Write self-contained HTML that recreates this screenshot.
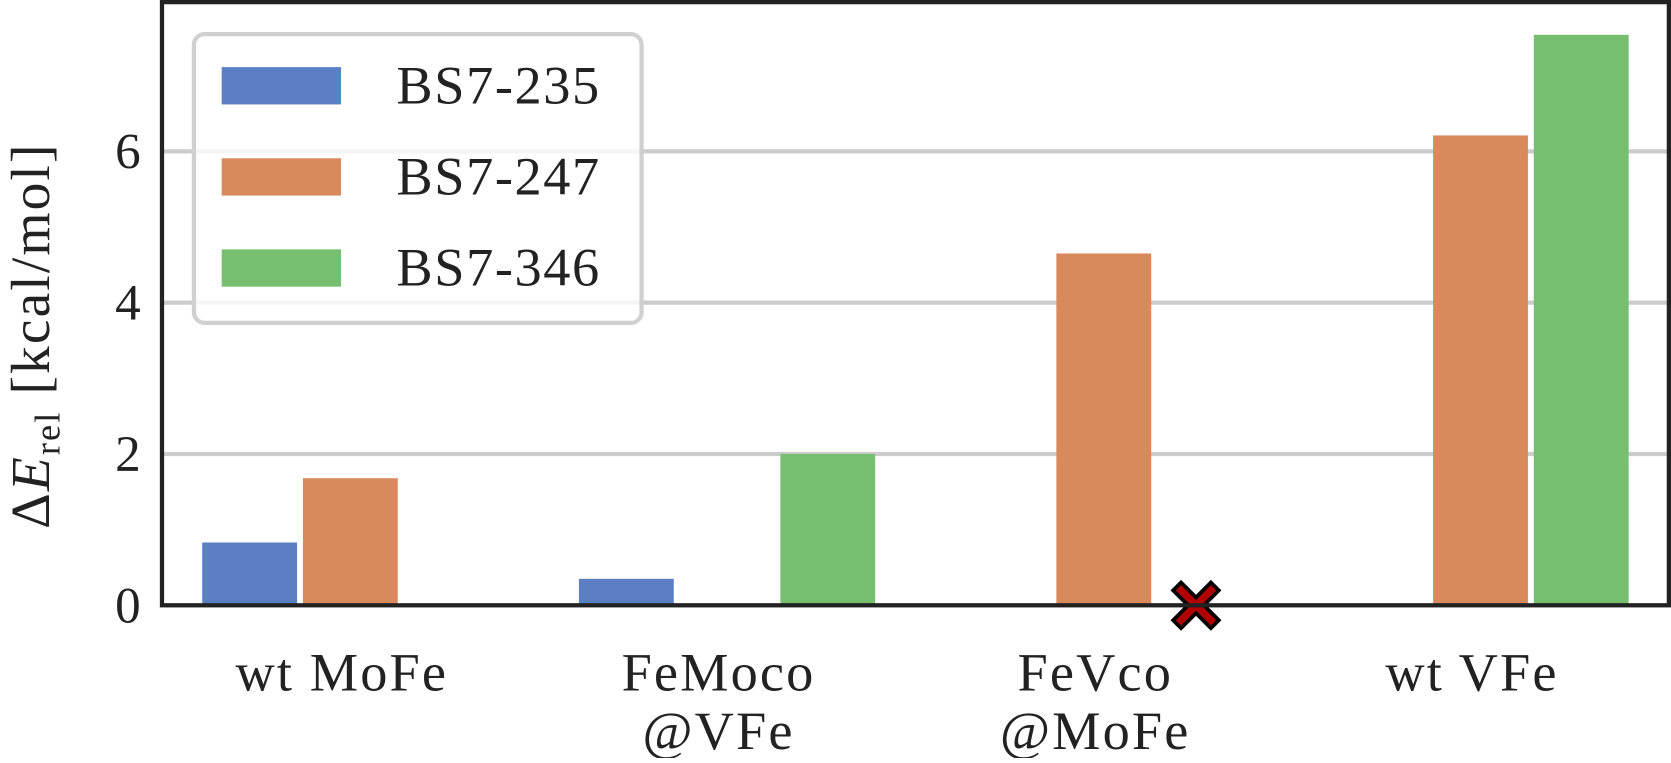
<!DOCTYPE html>
<html><head><meta charset="utf-8"><style>
body{margin:0;background:#fff}
svg text{font-family:"Liberation Serif",serif;fill:#222}
</style></head><body>
<svg id="chart" width="1671" height="758" viewBox="0 0 1568 711.3" preserveAspectRatio="none" xmlns="http://www.w3.org/2000/svg"></svg>
<script>
const categories = [["wt MoFe"],["FeMoco","@VFe"],["FeVco","@MoFe"],["wt VFe"]];
const seriesNames = ["BS7-235","BS7-247","BS7-346"];
const bs235 = [0.83, 0.35, null, null];
const bs247 = [1.68, null, 4.65, 6.21];
const bs346 = [null, 2.0, null, 7.54];
const yTicks = [0,2,4,6];
const failedMarks = [[2,2]]; // [category, series]

const NS="http://www.w3.org/2000/svg";
const svg=document.getElementById('chart');
const L=152,R=1566,T=2,B=568;
const colors=["#5b7fc3","#d98a5d","#76bf71"];
const series=[bs235,bs247,bs346];
const y=v=>B-v*71;
const gw=(R-L)/categories.length;
const cx=i=>L+gw*(i+0.5);
const bw=89, step=94.5;
const bx=(i,s)=>cx(i)+(s-1)*step;
function mk(tag,attrs,parent){const e=document.createElementNS(NS,tag);for(const k in attrs)e.setAttribute(k,attrs[k]);(parent||svg).appendChild(e);return e;}

yTicks.forEach(t=>{
  if(t>0){const g=mk('line',{x1:L,x2:R,y1:y(t),y2:y(t),stroke:'#cccccc','stroke-width':4});
  
  }
  const tx=mk('text',{x:L-20,y:y(t)+16,'text-anchor':'end','font-size':48});
  tx.textContent=t;
  
  
});
series.forEach((arr,s)=>arr.forEach((v,i)=>{
  if(v==null)return;
  const r=mk('rect',{x:bx(i,s)-bw/2,y:y(v),width:bw,height:B-y(v),fill:colors[s]});
  
  
}));
failedMarks.forEach(([i,s])=>{
  const g=mk('g',{transform:`translate(${bx(i,s)-8},${B})`});
  
  
  mk('path',{d:'M-14,-14L14,14M14,-14L-14,14',stroke:'#000','stroke-width':14,'stroke-linecap':'square'},g);
  mk('path',{d:'M-14,-14L14,14M14,-14L-14,14',stroke:'#b00000','stroke-width':7,'stroke-linecap':'square'},g);
});
const frame=mk('rect',{x:L,y:T,width:R-L,height:B-T,fill:'none',stroke:'#222','stroke-width':4});


categories.forEach((lines,i)=>lines.forEach((ln,j)=>{
  const t=mk('text',{x:cx(i)-8,y:648+j*55,'text-anchor':'middle','font-size':51,'letter-spacing':2});
  t.textContent=ln;
  
  
}));
const yt=mk('text',{transform:'translate(46,315) rotate(-90)','text-anchor':'middle','font-size':52,'letter-spacing':2});
yt.innerHTML='Δ<tspan font-style="italic">E</tspan><tspan font-size="34" dy="10">rel</tspan><tspan dy="-10"> [kcal/mol]</tspan>';


const lg=mk('g',{});


mk('rect',{x:182,y:32,width:420,height:271,rx:10,fill:'#fff','fill-opacity':0.8,stroke:'#d0d0d0','stroke-width':4},lg);
seriesNames.forEach((n,s)=>{
  const e=mk('g',{},lg);
  
  
  mk('rect',{x:208,y:63+s*85.5,width:112,height:35,fill:colors[s]},e);
  const t=mk('text',{x:372,y:97+s*85.5,'font-size':51,'letter-spacing':1.5},e);
  t.textContent=n;
});
</script>
</body></html>
